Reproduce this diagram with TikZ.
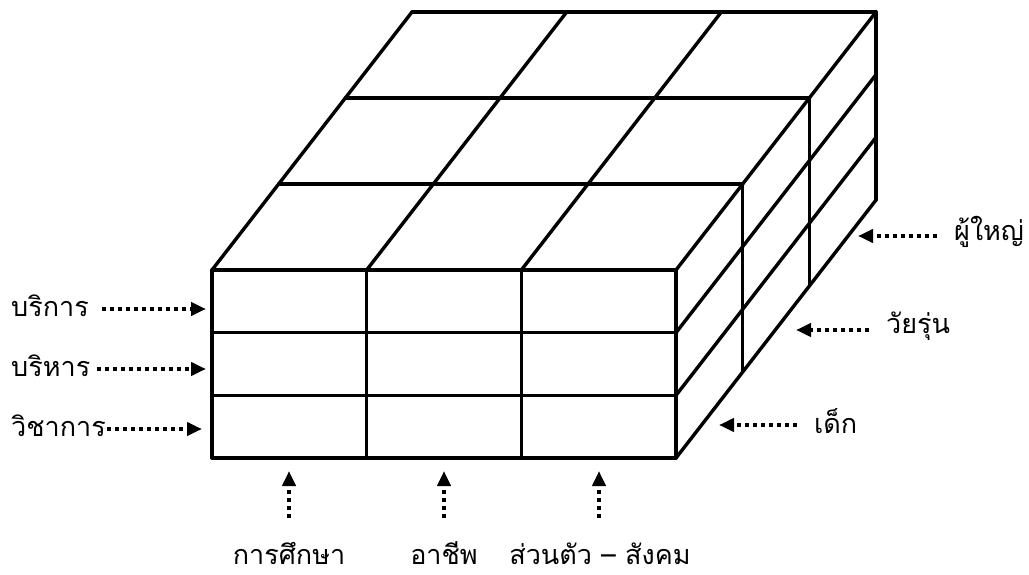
\documentclass[tikz,border=0pt]{standalone}
\usepackage{fontspec}
\newfontfamily\thaifont[Script=Thai]{Loma}
\usetikzlibrary{arrows.meta}

\begin{document}
\begin{tikzpicture}[
    x=1pt, y=-1pt,
    >={Triangle[length=15pt,width=13pt]},
    font=\thaifont\fontsize{27}{32}\selectfont,
    gridline/.style={line width=3.4pt, line cap=round, line join=round},
    dotarrow/.style={->, line width=4pt, dash pattern=on 4pt off 4pt},
    sidelabel/.style={inner sep=1pt}
]
    \useasboundingbox (0,0) rectangle (1029,575);
    % front face
    \foreach \i in {0,...,3}
        \draw[gridline] (212+154.67*\i,270) -- (212+154.67*\i,458);
    \foreach \j in {0,...,3}
        \draw[gridline] (212,270+62.67*\j) -- (676,270+62.67*\j);
    % top face
    \foreach \k in {1,...,3}
        \draw[gridline] (212+66.67*\k,270-86*\k) -- (676+66.67*\k,270-86*\k);
    \foreach \i in {0,...,3}
        \draw[gridline] (212+154.67*\i,270) -- (412+154.67*\i,12);
    % right face
    \foreach \k in {1,...,3}
        \draw[gridline] (676+66.67*\k,270-86*\k) -- (676+66.67*\k,458-86*\k);
    \foreach \j in {1,...,3}
        \draw[gridline] (676,270+62.67*\j) -- (876,12+62.67*\j);

    % left labels
    \node[sidelabel, anchor=west] (service) at (10,306) {บริการ};
    \node[sidelabel, anchor=west] (admin) at (10,366) {บริหาร};
    \node[sidelabel, anchor=west] (academic) at (10,426) {วิชาการ};
    \coordinate (serviceTip) at (206,309);
    \coordinate (adminTip) at (206,369);
    \coordinate (academicTip) at (202,429);
    \draw[dotarrow] (service.east |- serviceTip) ++(12,0) -- (serviceTip);
    \draw[dotarrow] (admin.east |- adminTip) ++(5,0) -- (adminTip);
    \draw[dotarrow] (academic.east |- academicTip) -- (academicTip);

    % right labels
    \node[sidelabel, anchor=west] (adult) at (953,232) {ผู้ใหญ่};
    \node[sidelabel, anchor=west] (teen) at (885,326) {วัยรุ่น};
    \node[sidelabel, anchor=west] (child) at (813,421) {เด็ก};
    \coordinate (adultTip) at (858,236);
    \coordinate (teenTip) at (796,330);
    \coordinate (childTip) at (719,425);
    \draw[dotarrow] (adult.west |- adultTip) ++(-16,0) -- (adultTip);
    \draw[dotarrow] (teen.west |- teenTip) ++(-16,0) -- (teenTip);
    \draw[dotarrow] (child.west |- childTip) ++(-16,0) -- (childTip);

    % bottom labels
    \node[sidelabel, anchor=base] (study) at (289,564) {การศึกษา};
    \node[sidelabel, anchor=base] (career) at (444,564) {อาชีพ};
    \node[sidelabel, anchor=base] (social) at (600,564) {ส่วนตัว – สังคม};
    \coordinate (studyTip) at (289,471);
    \coordinate (careerTip) at (444,471);
    \coordinate (socialTip) at (599,471);
    \draw[dotarrow] (studyTip |- 0,518) -- (studyTip);
    \draw[dotarrow] (careerTip |- 0,518) -- (careerTip);
    \draw[dotarrow] (socialTip |- 0,518) -- (socialTip);
\end{tikzpicture}
\end{document}
